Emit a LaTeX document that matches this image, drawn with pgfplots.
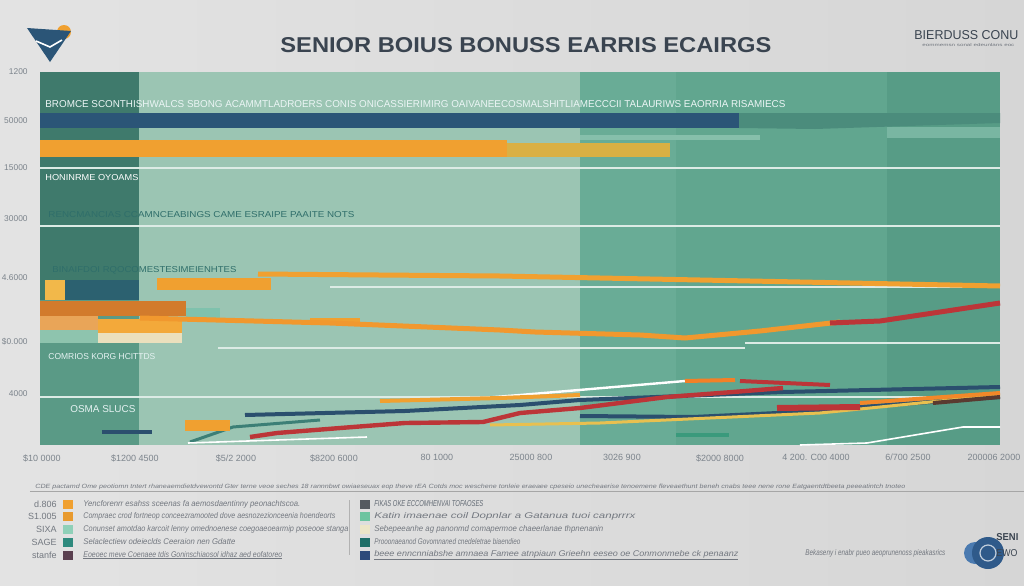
\documentclass[border=0pt]{standalone}
\usepackage{pgfplots}
\pgfplotsset{compat=1.18}
\usepackage{fontspec}
\setmainfont{Liberation Sans}
\usepackage{graphicx}
\definecolor{pagebgA}{HTML}{E3E3E3}
\definecolor{pagebgB}{HTML}{D6D6D6}
\definecolor{stripdark}{HTML}{3F7A6C}
\definecolor{striplow}{HTML}{5A9A86}
\definecolor{mint}{HTML}{9BC5B3}
\definecolor{midA}{HTML}{69AC96}
\definecolor{midB}{HTML}{61A68F}
\definecolor{midC}{HTML}{579C86}
\definecolor{navy}{HTML}{2B5577}
\definecolor{navyext}{HTML}{4B8C7C}
\definecolor{orange}{HTML}{F0A030}
\definecolor{ochre}{HTML}{DAB044}
\definecolor{lightA}{HTML}{79B6A2}
\definecolor{lightB}{HTML}{86BFAB}
\definecolor{whiteline}{HTML}{DCEBE5}
\definecolor{yellowsq}{HTML}{F2B84A}
\definecolor{darkblock}{HTML}{2C6170}
\definecolor{darkorange}{HTML}{D27B2C}
\definecolor{mintsmall}{HTML}{7FC2AD}
\definecolor{lorange}{HTML}{E9A558}
\definecolor{orangeB}{HTML}{F3A93A}
\definecolor{beige}{HTML}{EBE0BD}
\definecolor{mintunder}{HTML}{8EC4AE}
\definecolor{redl}{HTML}{BC3538}
\definecolor{navyl}{HTML}{2B4F6E}
\definecolor{yell}{HTML}{E8C050}
\definecolor{brownl}{HTML}{5A3A30}
\definecolor{teall}{HTML}{3C7F76}
\definecolor{greenl}{HTML}{3A9A7C}
\definecolor{tickgray}{HTML}{7C848C}
\definecolor{titlecol}{HTML}{3A4450}
\definecolor{labdark}{HTML}{2F6E6A}
\definecolor{leggray}{HTML}{737880}
\definecolor{swA}{HTML}{F0A030}
\definecolor{swB}{HTML}{E89A2E}
\definecolor{swC}{HTML}{8FD0B8}
\definecolor{swD}{HTML}{2F8A7E}
\definecolor{swE}{HTML}{5A4050}
\definecolor{swF}{HTML}{555A60}
\definecolor{swG}{HTML}{6CC4A0}
\definecolor{swH}{HTML}{ECE6C8}
\definecolor{swI}{HTML}{1F6F68}
\definecolor{swJ}{HTML}{2D4A7A}
\definecolor{logoblue}{HTML}{2F5A8A}
\definecolor{logoblue2}{HTML}{4A7AB0}
\newcommand{\fit}[3]{\resizebox{#1pt}{#2pt}{#3}}
\newcommand{\rect}[5]{\addplot[fill=#1,draw=none,forget plot] coordinates {(#2,#3) (#4,#3) (#4,#5) (#2,#5)} -- cycle;}
\newcommand{\lgt}[3]{\node[anchor=west,inner sep=0,text=leggray] at (axis cs:#1,#2) {#3};}
\newcommand{\sw}[3]{\node[fill=#3,minimum width=5pt,minimum height=4.5pt,inner sep=0] at (axis cs:#1,#2) {};}
\newcommand{\rl}[2]{\node[anchor=east,inner sep=0,text=leggray,font=\fontsize{4.5}{5}\selectfont] at (axis cs:57,#1) {#2};}
\begin{document}
\begin{tikzpicture}
\useasboundingbox (-20pt,-70pt) rectangle (492pt,222.5pt);
\clip (-20pt,-70pt) rectangle (492pt,222.5pt);
\fill[left color=pagebgA,right color=pagebgB] (-20pt,-70pt) rectangle (492pt,222.5pt);
\begin{axis}[
  at={(0,0)}, anchor=south west,
  width=480pt, height=186.5pt, scale only axis,
  xmin=40, xmax=1000, ymin=0, ymax=373,
  clip=false,
  axis line style={draw=none},
  major tick length=0pt,
  xtick={42,135,236,334,437,531,622,720,816,908,994},
  xticklabels={\$10 0000,\$1200 4500,\$5/2 2000,\$8200 6000,80 1000,25000 800,3026 900,\$2000 8000,4 200. C00 4000,6/700 2500,200006 2000},
  ytick={373,324,277,226,167,103,51},
  yticklabels={1200,50000,15000,30000,4.6000,\$0.000,4000},
  xticklabel style={inner sep=0pt, yshift=-4.5pt, font=\fontsize{4.5}{5}\selectfont, text=tickgray},
  yticklabel style={inner sep=0pt, xshift=-6pt, font=\fontsize{4.2}{5}\selectfont, text=tickgray},
]
% background panels
\rect{stripdark}{40}{145}{139}{373}
\rect{striplow}{40}{0}{139}{145}
\rect{mint}{139}{0}{580}{373}
\rect{midA}{580}{0}{676}{373}
\rect{midB}{676}{0}{887}{373}
\rect{midC}{887}{0}{1000}{373}
% top bars
\rect{navy}{40}{317}{739}{332}
\addplot[fill=navyext,draw=none,forget plot] coordinates {(739,332) (1000,332) (1000,322) (815,316) (739,317)} -- cycle;
\rect{lightA}{887}{307}{1000}{318}
\rect{lightB}{580}{305}{760}{310}
\rect{orange}{40}{288}{507}{305}
\rect{ochre}{507}{288}{670}{302}
% white guide lines
\addplot[whiteline,line width=0.7pt,forget plot] coordinates {(40,277) (1000,277)};
\addplot[whiteline,line width=0.7pt,forget plot] coordinates {(40,219) (1000,219)};
\addplot[whiteline,line width=0.6pt,forget plot] coordinates {(330,158) (1000,158)};
\addplot[whiteline,line width=0.6pt,forget plot] coordinates {(218,97) (745,97)};
\addplot[whiteline,line width=0.6pt,forget plot] coordinates {(745,102) (1000,102)};
\addplot[whiteline,line width=0.6pt,forget plot] coordinates {(40,48) (1000,48)};
% middle shapes
\addplot[orange,line width=2.5pt,forget plot] coordinates {(258,171) (500,169) (1000,159)};
\rect{yellowsq}{45}{145}{65}{165}
\rect{darkblock}{65}{145}{139}{165}
\rect{orange}{157}{155}{271}{167}
\rect{darkorange}{40}{129}{186}{144}
\rect{mintsmall}{186}{127}{220}{137}
\rect{lorange}{40}{115}{98}{129}
\rect{orangeB}{98}{112}{182}{126}
\rect{beige}{98}{102}{182}{112}
\rect{mintunder}{40}{102}{98}{115}
\rect{orange}{310}{121}{360}{127}
\addplot[orange!95!red,line width=2.5pt,forget plot] coordinates {(140,127) (330,122) (500,115) (535,113) (640,110) (685,107) (760,114) (840,123)};
\addplot[redl,line width=2.5pt,forget plot] coordinates {(830,122) (880,124) (1000,142)};
% lower lines
\addplot[white,line width=1.2pt,forget plot] coordinates {(470,46) (520,50) (685,64)};
\addplot[orange!80!red,line width=2pt,forget plot] coordinates {(685,64) (735,65)};
\addplot[redl,line width=2pt,forget plot] coordinates {(740,64) (830,60)};
\addplot[orange,line width=2pt,forget plot] coordinates {(380,44) (500,47) (580,50)};
\addplot[navyl,line width=2pt,forget plot] coordinates {(245,30) (405,34) (520,40) (580,45) (783,53) (1000,58)};
\addplot[redl,line width=2.2pt,forget plot] coordinates {(250,8) (277,12) (353,18) (405,22) (483,23) (520,32) (580,37) (667,48) (733,53) (783,57)};
\addplot[navyl,line width=2pt,forget plot] coordinates {(580,29) (693,28) (777,32) (860,38) (1000,48)};
\addplot[yell,line width=1.5pt,forget plot] coordinates {(490,20) (600,22) (820,32) (1000,50)};
\addplot[redl,line width=3pt,forget plot] coordinates {(777,37) (860,38)};
\addplot[orange!85!red,line width=2pt,forget plot] coordinates {(860,42) (1000,52)};
\addplot[brownl,line width=2pt,forget plot] coordinates {(933,42) (1000,48)};
\addplot[teall,line width=1.5pt,forget plot] coordinates {(190,3) (233,18) (320,25)};
\addplot[navyl,line width=2.2pt,forget plot] coordinates {(102,13) (152,13)};
\rect{orange}{185}{14}{230}{25}
\addplot[greenl,line width=2pt,forget plot] coordinates {(676,10) (729,10)};
\addplot[white,line width=0.8pt,forget plot] coordinates {(188,2) (367,8)};
\addplot[white,line width=0.8pt,forget plot] coordinates {(800,0) (867,2) (963,18) (1000,18)};
% in-plot labels
\node[anchor=west,inner sep=0,text=white!92!teal] at (axis cs:45,341) {\fit{370}{3.5}{BROMCE SCONTHISHWALCS SBONG ACAMMTLADROERS CONIS ONICASSIERIMIRG OAIVANEECOSMALSHITLIAMECCCII TALAURIWS EAORRIA RISAMIECS}};
\node[anchor=west,inner sep=0,text=white] at (axis cs:45,267) {\fit{46.5}{3}{HONINRME OYOAMS}};
\node[anchor=west,inner sep=0,text=labdark] at (axis cs:48,230) {\fit{153}{3}{RENCMANCIAS CCAMNCEABINGS CAME ESRAIPE PAAITE NOTS}};
\node[anchor=west,inner sep=0,text=labdark] at (axis cs:52,175) {\fit{92}{3}{BINAIFDOI RQOCOMESTESIMEIENHTES}};
\node[anchor=west,inner sep=0,text=white!90!teal] at (axis cs:48,88) {\fit{53.5}{3}{COMRIOS KORG HCITTDS}};
\node[anchor=west,inner sep=0,text=white!90!teal] at (axis cs:70,36) {\fit{32.5}{3.5}{OSMA SLUCS}};
% title and header
\node[anchor=west,inner sep=0,text=titlecol] at (axis cs:280,399.5) {\fit{245.5}{7.5}{\bfseries SENIOR BOIUS BONUSS EARRIS ECAIRGS}};
\node[anchor=west,inner sep=0,text=titlecol] at (axis cs:914,410) {\fit{52}{4.5}{BIERDUSS CONU}};
\node[anchor=west,inner sep=0,text=leggray] at (axis cs:922,400) {\fit{46}{1.5}{eommemsn sonal edeunlans eoc}};
% top-left logo
\fill[orange] (axis cs:64,413) circle (3.5pt);
\fill[navy] (axis cs:27,417) -- (axis cs:71,414) -- (axis cs:50,383) -- cycle;
\draw[white,line width=0.8pt] (axis cs:36,404) -- (axis cs:50,398) -- (axis cs:62,405);
% legend area
\node[anchor=west,inner sep=0,text=leggray] at (axis cs:35,-42) {\fit{435}{2.2}{\itshape CDE pactamd Ome peotiomn tntert rhaneaemdietdvewontd Gter terne veoe seches 18 rannnbwt owiaeseuax eop theve rEA Cotds moc weschene  tonleie eraeaee cpeseio unecheaerise tenoemene fleveaethunt beneh cnabs teee nene rone Eatgaentdtbeeta peeeatintch tnoteo}};
\draw[gray!70,line width=0.5pt] (axis cs:30,-46) -- (axis cs:1024,-46);
\draw[gray!60,line width=0.4pt] (axis cs:349,-55) -- (axis cs:349,-110);
% left column
\rl{-59}{d.806}
\rl{-71}{S1.005}
\rl{-84}{SIXA}
\rl{-97}{SAGE}
\rl{-110}{stanfe}
\sw{68}{-59}{swA}
\sw{68}{-71}{swB}
\sw{68}{-84}{swC}
\sw{68}{-97}{swD}
\sw{68}{-110}{swE}
\lgt{83}{-59}{\fit{108.5}{3}{\itshape Yencforenrr esahss sceenas fa aemosdaentinny peonachtscoa.}}
\lgt{83}{-71}{\fit{126}{3}{\itshape Compraec crod fortneop conceezramooted dove aesnozezionceenia hoendeorts}}
\lgt{83}{-84}{\fit{132.5}{3}{\itshape Conunset amotdao karcoit lenny omednoenese coegoaeoearmip poseooe stanga}}
\lgt{83}{-97}{\fit{76}{3}{\itshape Selaclectiew odeieclds Ceeraion nen Gdatte}}
\lgt{83}{-110}{\fit{99.5}{3}{\itshape\underline{Eoeoec meve Coenaee tdis Goninschiaosol idhaz aed eofatoreo}}}
% right column
\sw{365}{-59}{swF}
\sw{365}{-71}{swG}
\sw{365}{-84}{swH}
\sw{365}{-97}{swI}
\sw{365}{-110}{swJ}
\node[anchor=west,inner sep=0,text=titlecol!80] at (axis cs:374,-59) {\fit{54.5}{3}{\itshape FIKAS OKE ECCOMHENVAI TOFAOSES}};
\lgt{374}{-71}{\fit{130.5}{3}{\itshape Katin imaenae coil Dopnlar a Gatanua tuoi canprrrx}}
\lgt{374}{-84}{\fit{114.5}{3}{\itshape Sebepeeanhe ag panonmd comapermoe chaeerlanae thpnenanin}}
\lgt{374}{-97}{\fit{73}{3}{\itshape Prooonaeanod Govomnaned cnedeletrae biaendieo}}
\lgt{374}{-110}{\fit{182}{3}{\itshape\underline{beee enncnniabshe amnaea Famee atnpiaun Grieehn eeseo oe Conmonmebe ck penaanz}}}
\lgt{805}{-108}{\fit{70}{3}{\itshape Bekaseny i enabr pueo aeoprunenoss pieakasrics}}
% bottom-right logo
\fill[logoblue2] (axis cs:975,-108) circle (5.5pt);
\fill[logoblue] (axis cs:988,-108) circle (8pt);
\draw[white!70!logoblue,line width=0.6pt] (axis cs:988,-108) circle (4pt);
\node[anchor=west,inner sep=0,text=titlecol] at (axis cs:996,-92) {\fit{11}{3.5}{\bfseries SENI}};
\node[anchor=west,inner sep=0,text=titlecol] at (axis cs:996,-108) {\fit{10.5}{3.5}{EWO}};
\end{axis}
\end{tikzpicture}
\end{document}
